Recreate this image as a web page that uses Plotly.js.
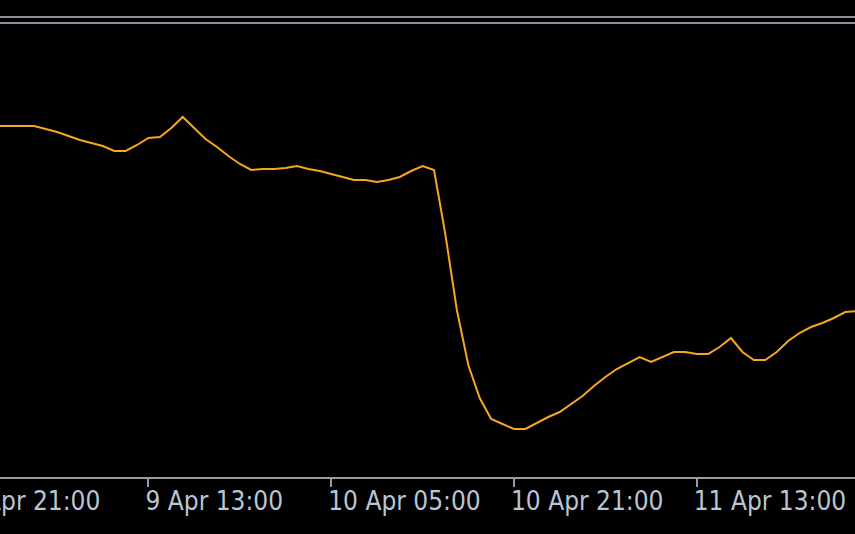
<!DOCTYPE html>
<html><head><meta charset="utf-8">
<script src="https://cdn.plot.ly/plotly-3.0.1.min.js"></script>
<style>
html,body{margin:0;padding:0;background:#000;overflow:hidden;width:855px;height:534px}
#chart{position:absolute;left:-50px;top:0;width:905px;height:534px}
</style>
</head><body><div id="chart"></div>
<script>
// Hourly bars starting at 8 Apr 20:00
const seriesStart = '2025-04-08T20:00:00Z';
const hourlyLevels = [
  351, 351, 351, 351,
  351, 351, 351, 351, 348, 345, 341, 337, 334, 331, 326, 326,
  332, 339, 340, 349, 360, 349, 338, 330, 321, 313, 307, 308,
  308, 309, 311, 308, 306, 303, 300, 297, 297, 295, 297, 300,
  306, 311, 307, 242, 167, 112, 79, 58, 53, 48, 48, 54,
  60, 65, 73, 81, 91, 100, 108, 114, 120, 115, 120, 125,
  125, 123, 123, 130, 139, 125, 117, 117, 125, 136, 144, 150,
  154, 159, 165, 166
];
const tickTimes = ['2025-04-08 21:00','2025-04-09 13:00','2025-04-10 05:00','2025-04-10 21:00','2025-04-11 13:00'];
const tickLabels = ['8 Apr 21:00','9 Apr 13:00','10 Apr 05:00','10 Apr 21:00','11 Apr 13:00'];
const viewRange = ['2025-04-08 19:37:26','2025-04-12 02:51:20'];
const levelRange = [0, 477];
const separatorLevels = [460, 454];

function fmt(d){
  const p = n => String(n).padStart(2,'0');
  return d.getUTCFullYear()+'-'+p(d.getUTCMonth()+1)+'-'+p(d.getUTCDate())+' '+p(d.getUTCHours())+':'+p(d.getUTCMinutes());
}
const t0 = new Date(seriesStart).getTime();
const times = hourlyLevels.map((_, i) => fmt(new Date(t0 + i * 3600000)));

const trace = {
  x: times, y: hourlyLevels, type: 'scatter', mode: 'lines',
  line: {color: '#f5a623', width: 2}, hoverinfo: 'skip'
};

const gridGrey = '#9a9aa4';
const layout = {
  width: 905, height: 534,
  margin: {l: 0, r: 0, t: 0, b: 57, pad: 0},
  paper_bgcolor: '#000', plot_bgcolor: '#000',
  showlegend: false,
  xaxis: {
    type: 'date', range: viewRange, showgrid: false, zeroline: false,
    showline: true, linecolor: gridGrey, linewidth: 2,
    ticks: 'outside', ticklen: 8, tickwidth: 2, tickcolor: gridGrey,
    tickmode: 'array', tickvals: tickTimes, ticktext: tickLabels,
    ticklabelposition: 'outside right', ticklabelshift: -5,
    tickfont: {family: 'DejaVu Sans Condensed, DejaVu Sans, sans-serif', size: 26, color: '#b9c5d2'}
  },
  yaxis: {range: levelRange, visible: false, showgrid: false, zeroline: false, fixedrange: true},
  shapes: separatorLevels.map(v => ({
    type: 'line', xref: 'paper', x0: 0, x1: 1, yref: 'y', y0: v, y1: v,
    line: {color: '#8e8e98', width: 2}
  }))
};
Plotly.newPlot('chart', [trace], layout, {displayModeBar: false, staticPlot: true});
</script>
</body></html>
